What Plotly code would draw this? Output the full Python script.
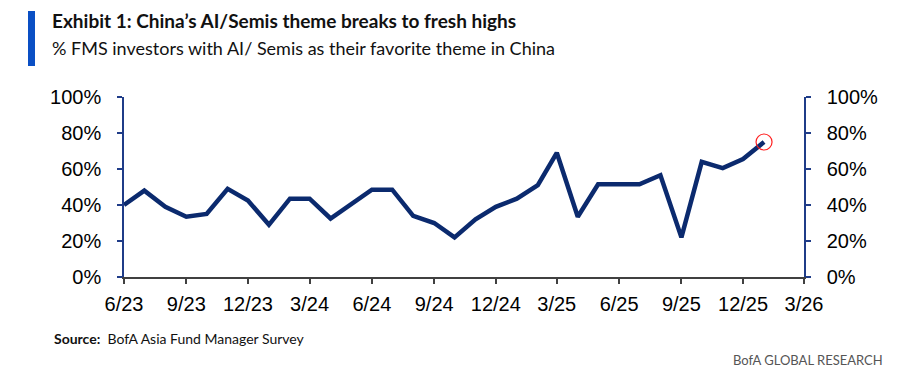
import plotly.graph_objects as go

# ---- data ----
months = ["2023-06-01", "2023-07-01", "2023-08-01", "2023-09-01", "2023-10-01", "2023-11-01", "2023-12-01",
          "2024-01-01", "2024-02-01", "2024-03-01", "2024-04-01", "2024-05-01", "2024-06-01", "2024-07-01",
          "2024-08-01", "2024-09-01", "2024-10-01", "2024-11-01", "2024-12-01",
          "2025-01-01", "2025-02-01", "2025-03-01", "2025-04-01", "2025-05-01", "2025-06-01", "2025-07-01",
          "2025-08-01", "2025-09-01", "2025-10-01", "2025-11-01", "2025-12-01",
          "2026-01-01"]
share_pct = [40, 48, 39, 33.5, 35, 49, 42.5,
             29, 43.5, 43.5, 32.5, 40.5, 48.5, 48.5,
             34, 30, 22, 32, 39,
             43.5, 51, 69, 33.5, 51.5, 51.5, 51.5,
             56.5, 22, 64, 60.5, 65.5,
             75]
tick_dates = ["2023-06-01", "2023-09-01", "2023-12-01", "2024-03-01", "2024-06-01", "2024-09-01",
              "2024-12-01", "2025-03-01", "2025-06-01", "2025-09-01", "2025-12-01", "2026-03-01"]
y_ticks = [0, 20, 40, 60, 80, 100]
y_tick_text = ["0%", "20%", "40%", "60%", "80%", "100%"]

title = "Exhibit 1: China\u2019s AI/Semis theme breaks to fresh highs"
subtitle = "% FMS investors with AI/ Semis as their favorite theme in China"

W, H = 911, 381
L, R, T, B = 124, 107, 97, 104
PW, PH = W - L - R, H - T - B

def px(x):
    return (x - L) / PW

def py(y):
    return (H - B - y) / PH

TXT = "Lato, Noto Sans, sans-serif"
TICK = "Liberation Sans, Arial, sans-serif"
NAVY = "#0b2a6e"
AXBLUE = "#1f3c88"

fig = go.Figure()
fig.add_trace(go.Scatter(x=months, y=share_pct, mode="lines",
                         line=dict(color=NAVY, width=4.5), hoverinfo="skip", showlegend=False))
fig.add_trace(go.Scatter(x=months, y=share_pct, mode="lines", yaxis="y2",
                         line=dict(color="rgba(0,0,0,0)", width=0), hoverinfo="skip", showlegend=False))

# red circle around latest reading
fig.add_shape(type="circle", xref="x", yref="y", xsizemode="pixel", ysizemode="pixel",
              xanchor=months[-1], yanchor=share_pct[-1], x0=-8, x1=8, y0=-8, y1=8,
              line=dict(color="#ff2020", width=1.2))

fig.update_layout(
    width=W, height=H,
    margin=dict(l=L, r=R, t=T, b=B),
    paper_bgcolor="white", plot_bgcolor="white",
    xaxis=dict(type="date", range=["2023-06-01", "2026-03-01"], tickvals=tick_dates,
               tickformat="%-m/%y", showgrid=False, zeroline=False,
               showline=True, linecolor="#404040", linewidth=1.5,
               ticks="outside", ticklen=5, tickcolor="#404040", tickwidth=1.5,
               tickfont=dict(family=TICK, size=20, color="#000"), ticklabelstandoff=3),
    yaxis=dict(range=[0, 100], tickvals=y_ticks, ticktext=y_tick_text, showgrid=False,
               zeroline=False, showline=True, linecolor=AXBLUE, linewidth=1.5,
               ticks="outside", ticklen=5, tickcolor=AXBLUE, tickwidth=1.5,
               tickfont=dict(family=TICK, size=20, color="#000"), ticklabelstandoff=12),
    yaxis2=dict(range=[0, 100], tickvals=y_ticks, ticktext=y_tick_text, overlaying="y",
                side="right", showgrid=False, zeroline=False, showline=True,
                linecolor=AXBLUE, linewidth=1.5, ticks="outside", ticklen=5,
                tickcolor=AXBLUE, tickwidth=1.5,
                tickfont=dict(family=TICK, size=20, color="#000"), ticklabelstandoff=12),
)

# blue title bar
fig.add_shape(type="rect", xref="paper", yref="paper", x0=px(28), x1=px(35), y0=py(66), y1=py(11),
              fillcolor="#0a4fc4", line=dict(width=0), layer="above")

ann = [
    dict(text="<b>" + title + "</b>", x=px(50), y=py(34), size=19, color="#111"),
    dict(text=subtitle, x=px(50), y=py(61), size=18, color="#111"),
    dict(text="<b>Source:</b>  BofA Asia Fund Manager Survey", x=px(52), y=py(349), size=14, color="#111"),
]
for a in ann:
    fig.add_annotation(text=a["text"], xref="paper", yref="paper", x=a["x"], y=a["y"],
                       xanchor="left", yanchor="bottom", showarrow=False,
                       font=dict(family=TXT, size=a["size"], color=a["color"]))
fig.add_annotation(text="BofA GLOBAL RESEARCH", xref="paper", yref="paper", x=px(885), y=py(370),
                   xanchor="right", yanchor="bottom", showarrow=False,
                   font=dict(family=TXT, size=13, color="#555"))

fig.write_html("out.html", config={"displayModeBar": False},
               post_script="document.body.style.margin='0';document.body.style.padding='0';")
